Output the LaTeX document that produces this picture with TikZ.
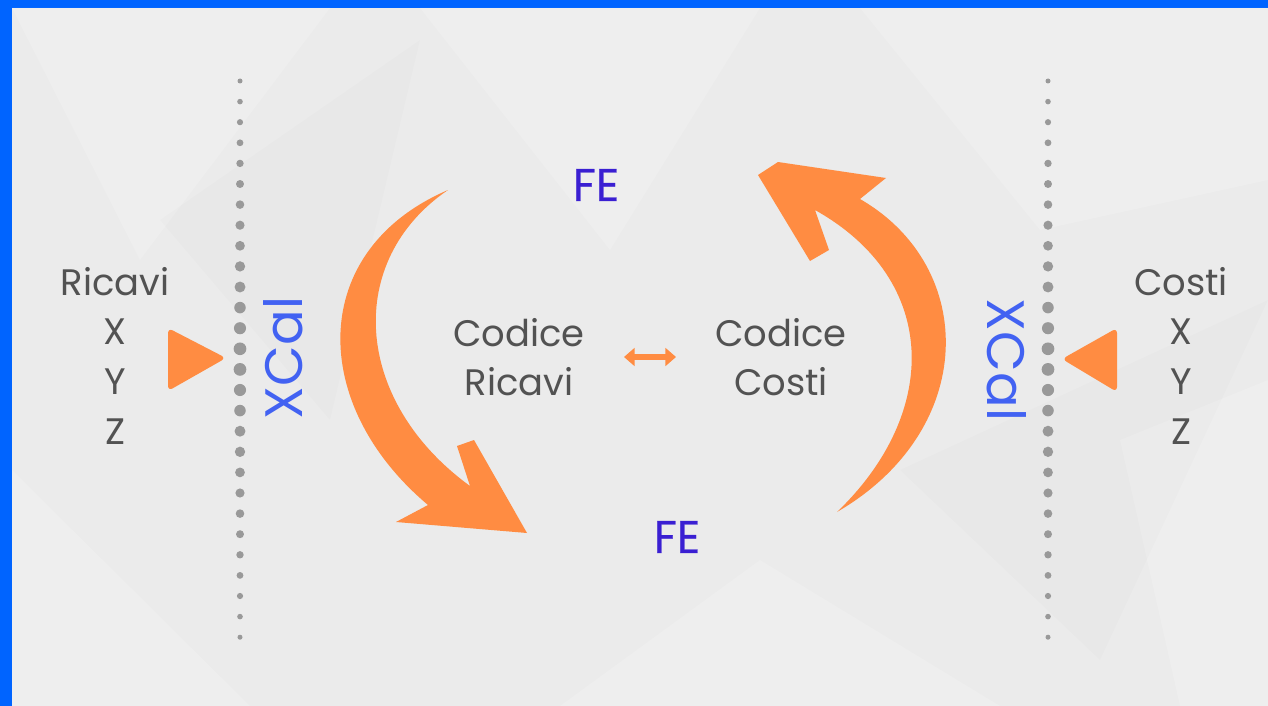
\documentclass[tikz,border=0pt]{standalone}
\usepackage{fontspec}
\setmainfont{Poppins}
\newfontfamily\fefont{Poppins}[FakeBold=0.6]
\usepackage{xcolor}
\usetikzlibrary{positioning}
\usetikzlibrary{arrows.meta}

\definecolor{frameblue}{HTML}{0064FF}
\definecolor{paper}{HTML}{EBEBEB}
\definecolor{txtgray}{HTML}{525252}
\definecolor{dotgray}{HTML}{999999}
\definecolor{xcalblue}{HTML}{4262F2}
\definecolor{feblue}{HTML}{3A1FD2}
\definecolor{orng}{HTML}{FF8C42}

\begin{document}
\begin{tikzpicture}[x=0.02cm,y=-0.02cm,
node distance=1cm,on grid,
lbl/.style={text=txtgray,font=\fontsize{21}{28}\selectfont,inner sep=0pt},
xcal/.style={text=xcalblue,font=\fontsize{30}{34}\selectfont,inner sep=0pt},
fe/.style={text=feblue,font=\fefont\fontsize{26}{30}\selectfont,inner sep=0pt},
facet/.style={fill=white,opacity=0.16}]
\tikzstyle{every node}=[draw=none]

\useasboundingbox (0,0) rectangle (1268,706);
\fill[frameblue] (0,0) rectangle (1268,706);
\fill[paper] (12,8) rectangle (1268,706);
\fill[facet] (12,8) -- (330,8) -- (140,260) -- cycle;
\fill[facet] (420,8) -- (760,8) -- (610,250) -- cycle;
\fill[facet] (860,8) -- (1268,8) -- (1268,180) -- (1040,230) -- cycle;
\fill[facet] (12,470) -- (250,706) -- (12,706) -- cycle;
\fill[facet] (560,706) -- (760,560) -- (1000,706) -- cycle;
\fill[facet] (1120,440) -- (1268,380) -- (1268,706) -- (1180,706) -- cycle;
\fill[black,opacity=0.012] (160,220) -- (420,40) -- (330,420) -- cycle;
\fill[black,opacity=0.012] (900,470) -- (1268,300) -- (1100,660) -- cycle;

\foreach \i in {0,...,27} {
  \pgfmathsetmacro\yy{81+\i*20.6}
  \pgfmathsetmacro\rr{6.5-4*abs(\yy-359.5)/278.5}
  \fill[dotgray] (240,\yy) circle[radius=\rr];
  \fill[dotgray] (1048,\yy) circle[radius=\rr];
}

\node (ricavi) [lbl] at (115,282) {Ricavi};
\node (rx) [lbl,below=of ricavi] {X};
\node (ry) [lbl,below=of rx] {Y};
\node (rz) [lbl,below=of ry] {Z};

\node (costi) [lbl] at (1181,282) {Costi};
\node (cx) [lbl,below=of costi] {X};
\node (cy) [lbl,below=of cx] {Y};
\node (cz) [lbl,below=of cy] {Z};

\node (xcalL) [xcal,rotate=90] at (283,358) {XCal};
\node (xcalR) [xcal,rotate=-90] at (1007,360) {XCal};

\node (codR) [lbl,align=center] at (519,357) {Codice\\Ricavi};
\node (codC) [lbl,align=center] at (781,357) {Codice\\Costi};

\node (feTop) [fe] at (596,185) {FE};
\node (feBot) [fe] at (677,537) {FE};

\fill[orng,rounded corners=3pt] (168,328) -- (226,358) -- (168,391) -- cycle;
\fill[orng,rounded corners=3pt] (1117,328) -- (1062,359) -- (1117,392) -- cycle;

\draw[orng,line width=3pt,{Triangle[length=6pt,width=10pt]}-{Triangle[length=6pt,width=10pt]},
  shorten <=2.1cm,shorten >=2.1cm] (codR.center) -- (codC.center);

\fill[orng] (448,190) .. controls (308,250) and (308,404) .. (428,505)
  -- (396,522) -- (527,533) -- (474,440) -- (457,446) -- (470,486)
  .. controls (352,400) and (345,260) .. (448,190) -- cycle;

\fill[orng] (837,512) .. controls (978,430) and (978,267) .. (860,199)
  -- (886,178) -- (778,162) -- (758,175) -- (810,261) -- (829,250) -- (815,210)
  .. controls (940,280) and (940,413) .. (837,512) -- cycle;

\end{tikzpicture}
\end{document}
